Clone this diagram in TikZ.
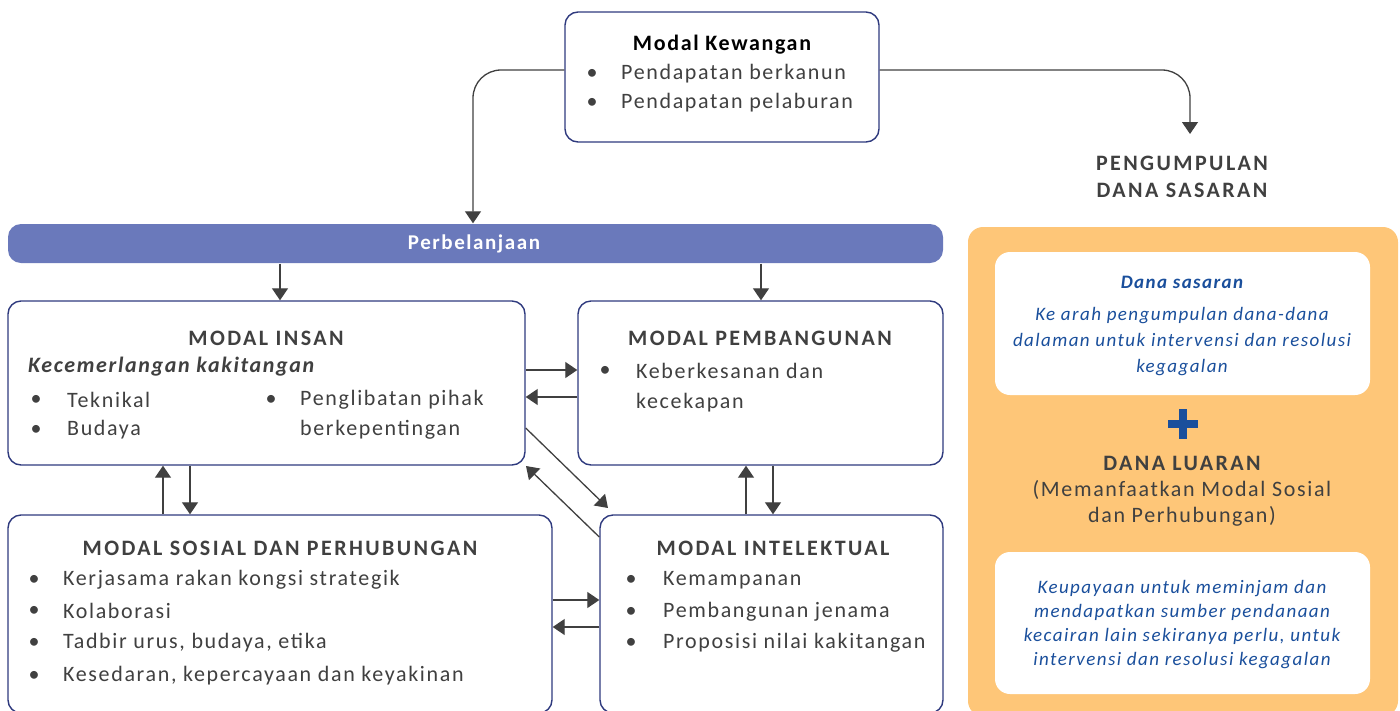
\documentclass[tikz,border=0pt]{standalone}
\usepackage{fontspec}
\setmainfont{Carlito}[LetterSpace=7.5]
\newfontfamily\ttlfont{Carlito}[LetterSpace=11]
\usetikzlibrary{arrows.meta,calc}
\definecolor{bordercol}{HTML}{2F3A7E}
\definecolor{barcol}{HTML}{6A79BB}
\definecolor{txtcol}{HTML}{404040}
\definecolor{orangecol}{HTML}{FEC678}
\definecolor{bluecol}{HTML}{1A4F9C}
\definecolor{arrcol}{HTML}{404040}
\tikzset{
  box/.style={draw=bordercol, line width=1.4pt, rounded corners=13pt, fill=white, inner sep=0pt},
  arr/.style={draw=arrcol, line width=1.3pt, -{Triangle[width=16pt,length=12pt]}},
  body/.style={text=txtcol, font=\fontsize{22}{26}\selectfont, inner sep=0pt},
  ttl/.style={text=txtcol, font=\fontsize{22}{27}\selectfont\ttlfont\bfseries, inner sep=0pt},
  bul/.style={text=txtcol, font=\fontsize{22}{26}\selectfont, inner sep=0pt},
  bluet/.style={text=bluecol, font=\fontsize{19}{26}\selectfont\itshape, inner sep=0pt, align=center},
}
\begin{document}
\begin{tikzpicture}[x=1pt,y=-1pt]
\useasboundingbox (0,0) rectangle (1400,710);
\clip (0,0) rectangle (1400,710);
% boxes
\node[box, minimum width=314pt, minimum height=130pt] (kew) at (722,77) {};
\node[box, draw=none, fill=barcol, minimum width=935pt, minimum height=39pt] (bar) at (475.5,243.5) {};
\node[box, minimum width=517pt, minimum height=164pt] (insan) at (266.5,383) {};
\node[box, minimum width=365pt, minimum height=164pt] (pemb) at (760.5,383) {};
\node[box, minimum width=544pt, minimum height=198pt] (sosial) at (280,614) {};
\node[box, minimum width=343pt, minimum height=198pt] (intel) at (771.5,614) {};
\node[box, draw=none, fill=orangecol, rounded corners=15pt, minimum width=430pt, minimum height=489pt] (orange) at (1183,471.5) {};
\node[box, draw=none, rounded corners=15pt, minimum width=375pt, minimum height=143pt] (w1) at (1182.5,323.5) {};
\node[box, draw=none, rounded corners=15pt, minimum width=375pt, minimum height=142pt] (w2) at (1182.5,623) {};

% top box text
\node[font=\fontsize{22}{29}\selectfont\bfseries, text=black, inner sep=0pt] (kewt) at (722,45) {Modal Kewangan};
\node[bul] (kb1) at (592,74) {•};
\node[body, anchor=west] (k1) at (621,74) {Pendapatan berkanun};
\node[bul] (kb2) at (592,103) {•};
\node[body, anchor=west] (k2) at (621,103) {Pendapatan pelaburan};

\node[ttl, align=center] (peng) at (1182,177) {PENGUMPULAN\\DANA SASARAN};
\node[text=white, font=\fontsize{21}{24}\selectfont\bfseries, inner sep=0pt] (bart) at (474,244) {Perbelanjaan};

% insan
\node[ttl] (insant) at (266,338) {MODAL INSAN};
\node[font=\fontsize{22}{29}\selectfont\bfseries\itshape, text=txtcol, inner sep=0pt, anchor=west] (insank) at (28,367) {Kecemerlangan kakitangan};
\node[bul] (ib1) at (36,400) {•};
\node[body, anchor=west] (i1) at (67,400) {Teknikal};
\node[bul] (ib2) at (36,430) {•};
\node[body, anchor=west] (i2) at (67,430) {Budaya};
\node[bul] (ib3) at (271,400) {•};
\node[body, anchor=west] (i3) at (300,400) {Penglibatan pihak};
\node[body, anchor=west] (i4) at (300,430) {berkepentingan};

% pembangunan
\node[ttl] (pembt) at (760,338) {MODAL PEMBANGUNAN};
\node[bul] (pb1) at (605,371) {•};
\node[body, anchor=west] (p1) at (636,371) {Keberkesanan dan};
\node[body, anchor=west] (p2) at (636,403) {kecekapan};

% sosial
\node[ttl] (sosialt) at (280,548) {MODAL SOSIAL DAN PERHUBUNGAN};
\node[bul] (sb1) at (34,580) {•};
\node[body, anchor=west] (s1) at (63,580) {Kerjasama rakan kongsi strategik};
\node[bul] (sb2) at (34,611) {•};
\node[body, anchor=west] (s2) at (63,611) {Kolaborasi};
\node[bul] (sb3) at (34,643) {•};
\node[body, anchor=west] (s3) at (63,643) {Tadbir urus, budaya, etika};
\node[bul] (sb4) at (34,676) {•};
\node[body, anchor=west] (s4) at (63,676) {Kesedaran, kepercayaan dan keyakinan};

% intelektual
\node[ttl] (intelt) at (773,548) {MODAL INTELEKTUAL};
\node[bul] (nb1) at (631,580) {•};
\node[body, anchor=west] (n1) at (663,580) {Kemampanan};
\node[bul] (nb2) at (631,612) {•};
\node[body, anchor=west] (n2) at (663,612) {Pembangunan jenama};
\node[bul] (nb3) at (631,643) {•};
\node[body, anchor=west] (n3) at (663,643) {Proposisi nilai kakitangan};

% right panel
\node[font=\fontsize{19}{24}\selectfont\bfseries\itshape, text=bluecol, inner sep=0pt] (dst) at (1182,282) {Dana sasaran};
\node[bluet] (dsb) at (1182,342) {Ke arah pengumpulan dana-dana\\dalaman untuk intervensi dan resolusi\\kegagalan};
\node[ttl] (dlt) at (1182,463) {DANA LUARAN};
\node[body, align=center] (dlb) at (1182,503) {(Memanfaatkan Modal Sosial\\dan Perhubungan)};
\node[bluet, font=\fontsize{19}{24}\selectfont\itshape] (w2t) at (1182,625) {Keupayaan untuk meminjam dan\\mendapatkan sumber pendanaan\\kecairan lain sekiranya perlu, untuk\\intervensi dan resolusi kegagalan};
\draw[bluecol, line width=8.5pt] (1168,424) -- (1198,424) (1183,409) -- (1183,439);

% connectors
\draw[arr, rounded corners=28pt] (kew.west |- 0,70) -| (bar.north -| 473,0);
\draw[arr, rounded corners=28pt] (kew.east |- 0,70) -| (1190,134);
\draw[arr] (bar.south -| 280,0) -- (insan.north -| 280,0);
\draw[arr] (bar.south -| 761,0) -- (pemb.north -| 761,0);
\draw[arr] (insan.east |- 0,370) -- (pemb.west |- 0,370);
\draw[arr] (pemb.west |- 0,397) -- (insan.east |- 0,397);
\coordinate (d1e) at (608,508);
\coordinate (d2e) at (526,466);
\draw[arr] (insan.east |- 0,428) -- (d1e);
\draw[arr] (intel.west |- 0,537) -- (d2e);
\draw[arr] (sosial.north -| 163,0) -- (insan.south -| 163,0);
\draw[arr] (insan.south -| 190,0) -- (sosial.north -| 190,0);
\draw[arr] (intel.north -| 746,0) -- (pemb.south -| 746,0);
\draw[arr] (pemb.south -| 773,0) -- (intel.north -| 773,0);
\draw[arr] (sosial.east |- 0,600) -- (intel.west |- 0,600);
\draw[arr] (intel.west |- 0,627) -- (sosial.east |- 0,627);
\end{tikzpicture}
\end{document}
